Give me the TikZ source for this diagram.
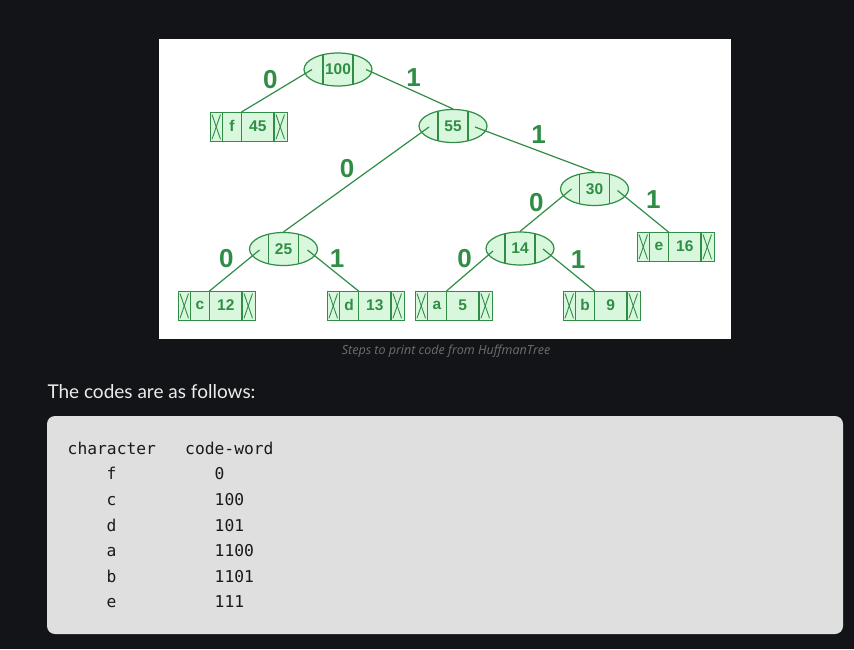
\documentclass[tikz,border=0pt]{standalone}
\usepackage{fontspec}
\usetikzlibrary{calc,shapes.geometric}
\newfontfamily\treefont{Liberation Sans}
\newfontfamily\monofnt{DejaVu Sans Mono}
\newfontfamily\uifont{Lato}
\newfontfamily\capfont{Open Sans}
\definecolor{bg}{HTML}{131417}
\definecolor{gfg}{HTML}{2F8D46}
\definecolor{leaffill}{HTML}{D9F7DD}
\definecolor{codebg}{HTML}{DFDFDF}
\definecolor{codetxt}{HTML}{1A1A1A}
\definecolor{captxt}{HTML}{6E6E6E}
\definecolor{headtxt}{HTML}{ECECEC}
\tikzset{
  inode/.style={ellipse, draw=gfg, fill=leaffill, line width=1.2pt, minimum width=68pt, minimum height=33pt, inner sep=0pt,
    font=\treefont\bfseries\fontsize{15.5}{18}\selectfont, text=gfg},
  leafbox/.style={draw=gfg, fill=leaffill, line width=1.2pt, minimum width=76.5pt, minimum height=28.5pt, inner sep=0pt, anchor=north west},
  celltxt/.style={font=\treefont\bfseries\fontsize{15.5}{18}\selectfont, text=gfg, inner sep=0pt},
  bitlbl/.style={font=\treefont\bfseries\fontsize{26}{30}\selectfont, text=gfg, inner sep=0pt},
  tedge/.style={draw=gfg, line width=1.2pt},
  xline/.style={draw=gfg, line width=0.9pt},
  codetext/.style={font=\monofnt\fontsize{16.3}{19}\selectfont, text=codetxt, inner sep=0pt, anchor=base west}
}
\newcommand\HLeaf[5]{%
  \node[leafbox] (#1) at (#2,#3) {};
  \draw[tedge] ($(#1.north west)+(12.5,0)$) -- ($(#1.south west)+(12.5,0)$);
  \draw[tedge] ($(#1.north west)+(31.5,0)$) -- ($(#1.south west)+(31.5,0)$);
  \draw[tedge] ($(#1.north west)+(64,0)$) -- ($(#1.south west)+(64,0)$);
  \draw[xline] ($(#1.north west)+(2,2.5)$) -- ($(#1.south west)+(10.5,-2.5)$);
  \draw[xline] ($(#1.north west)+(10.5,2.5)$) -- ($(#1.south west)+(2,-2.5)$);
  \draw[xline] ($(#1.north west)+(66,2.5)$) -- ($(#1.south west)+(74.5,-2.5)$);
  \draw[xline] ($(#1.north west)+(74.5,2.5)$) -- ($(#1.south west)+(66,-2.5)$);
  \node[celltxt] (#1ch) at ($(#1.north west)+(22,14.25)$) {#4};
  \node[celltxt] (#1num) at ($(#1.north west)+(47.75,14.25)$) {#5};
  \coordinate (#1top) at ($(#1.north west)+(31.5,0)$);
}
\newcommand\HInner[4]{%
  \node[inode] (#1) at (#2,#3) {#4};
  \draw[tedge] ($(#1)+(-15,-14.8)$) -- ($(#1)+(-15,14.8)$);
  \draw[tedge] ($(#1)+(15,-14.8)$) -- ($(#1)+(15,14.8)$);
}
\begin{document}
\begin{tikzpicture}[x=1pt,y=-1pt]
\useasboundingbox (0,0) rectangle (854,649);
\fill[bg] (0,0) rectangle (854,649);
\fill[white] (159,39) rectangle (731,339);

% inner nodes
\HInner{n100}{338}{69.5}{100}
\HInner{n55}{453}{126}{55}
\HInner{n30}{594.5}{189}{30}
\HInner{n25}{283.5}{249}{25}
\HInner{n14}{520}{248.5}{14}

% leaves
\HLeaf{lf}{210}{112}{f}{45}
\HLeaf{lc}{178}{291}{c}{12}
\HLeaf{ld}{327}{291}{d}{13}
\HLeaf{la}{415}{291}{a}{5}
\HLeaf{lb}{563}{291}{b}{9}
\HLeaf{le}{637}{232}{e}{16}

% connector start points inside the pointer cells
\coordinate (n100L) at ($(n100)+(-26,0)$);
\coordinate (n100R) at ($(n100)+(28,0)$);
\coordinate (n55L) at ($(n55)+(-24,1)$);
\coordinate (n55R) at ($(n55)+(22,1)$);
\coordinate (n30L) at ($(n30)+(-23,0)$);
\coordinate (n30R) at ($(n30)+(23,1.5)$);
\coordinate (n25L) at ($(n25)+(-24,1)$);
\coordinate (n25R) at ($(n25)+(24,1)$);
\coordinate (n14L) at ($(n14)+(-27,2.5)$);
\coordinate (n14R) at ($(n14)+(23,0.5)$);

\draw[tedge] (n100L) -- (lftop);
\draw[tedge] (n100R) -- (n55.north);
\draw[tedge] (n55L) -- (n25.north);
\draw[tedge] (n55R) -- (n30.north);
\draw[tedge] (n30L) -- (n14.north);
\draw[tedge] (n30R) -- (letop);
\draw[tedge] (n25L) -- (lctop);
\draw[tedge] (n25R) -- (ldtop);
\draw[tedge] (n14L) -- (latop);
\draw[tedge] (n14R) -- (lbtop);

% bit labels
\node[bitlbl] (b100L) at (270.3,80) {0};
\node[bitlbl] (b100R) at (413.7,77.7) {1};
\node[bitlbl] (b55L) at (347,169) {0};
\node[bitlbl] (b55R) at (538.7,134.5) {1};
\node[bitlbl] (b30L) at (536.3,202.7) {0};
\node[bitlbl] (b30R) at (653.3,199.3) {1};
\node[bitlbl] (b25L) at (226.3,258.7) {0};
\node[bitlbl] (b25R) at (337.2,258.3) {1};
\node[bitlbl] (b14L) at (464.7,258.7) {0};
\node[bitlbl] (b14R) at (578.2,259.3) {1};

% caption and heading
\node[font=\capfont\itshape\fontsize{12.5}{14}\selectfont, text=captxt, inner sep=0pt, anchor=base west] (cap) at (341.7,354.7) {Steps to print code from HuffmanTree};
\node[font=\uifont\fontsize{19}{22}\selectfont, text=headtxt, inner sep=0pt, anchor=base west] (head) at (47.3,398.3) {The codes are as follows:};

% code box
\fill[codebg, rounded corners=8pt] (47,416) rectangle (843,634);
\node[codetext] (hchar) at (67.5,454.3) {character};
\node[codetext] (hcode) at (185,454.3) {code-word};
\node[codetext] (cf) at (106.5,479.9) {f};
\node[codetext] (wf) at (214.5,479.9) {0};
\node[codetext] (cc) at (106.5,505.5) {c};
\node[codetext] (wc) at (214.5,505.5) {100};
\node[codetext] (cd) at (106.5,531.1) {d};
\node[codetext] (wd) at (214.5,531.1) {101};
\node[codetext] (ca) at (106.5,556.7) {a};
\node[codetext] (wa) at (214.5,556.7) {1100};
\node[codetext] (cb) at (106.5,582.3) {b};
\node[codetext] (wb) at (214.5,582.3) {1101};
\node[codetext] (ce) at (106.5,607.9) {e};
\node[codetext] (we) at (214.5,607.9) {111};
\end{tikzpicture}
\end{document}
